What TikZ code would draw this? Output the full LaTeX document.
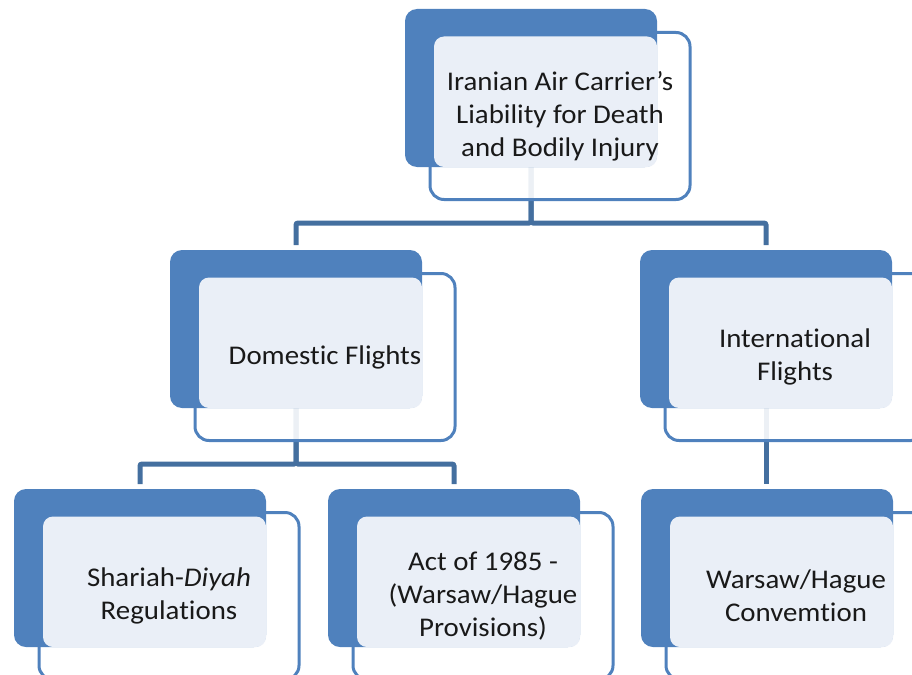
\documentclass[tikz,border=0pt]{standalone}
\usepackage{fontspec}
\setmainfont{Carlito}[FakeStretch=1.07, Ligatures={NoCommon}]
\usetikzlibrary{backgrounds}
\definecolor{darkb}{HTML}{4F81BD}
\definecolor{lightf}{HTML}{EAEFF7}
\definecolor{conn}{HTML}{446F9F}
\newcommand{\orgunit}[4]{%
  \node[wbox] (#1) at ({#2+155},{#3+107}) {};
  \node[dbox] (#1-d) at ({#2+126},{#3+79}) {};
  \fill[lightf, rounded corners=10pt] ([shift={(4,4)}]#1.north west) rectangle (#1-d.south east);
  \node[txt] (#1-t) at (#1.center) {#4};
}
\begin{document}
\begin{tikzpicture}[x=1pt,y=-1pt,
  wbox/.style={draw=darkb, line width=3pt, fill=white, fill opacity=0.9, draw opacity=1,
    rounded corners=14pt, minimum width=260pt, minimum height=167pt, inner sep=0pt, outer sep=0pt},
  dbox/.style={fill=darkb, rounded corners=12pt, minimum width=252pt, minimum height=158pt,
    inner sep=0pt, outer sep=0pt},
  txt/.style={font=\fontsize{27}{33}\selectfont, align=center, text=black!90},
  connline/.style={draw=conn, line width=5pt, rounded corners=2pt, shorten >=5pt}]
\useasboundingbox (0,0) rectangle (912,674);
\clip (0,0) rectangle (912,674);
\orgunit{top}{405}{9}{Iranian Air Carrier’s\\Liability for Death\\and Bodily Injury}
\orgunit{dom}{170}{250}{Domestic Flights}
\orgunit{int}{640}{250}{International\\Flights}
\orgunit{sha}{14}{489}{Shariah-\textit{Diyah}\\Regulations}
\orgunit{act}{328}{489}{Act of 1985 -\\(Warsaw/Hague\\Provisions)}
\orgunit{war}{641}{489}{Warsaw/Hague\\Convemtion}
\begin{scope}[on background layer]
  \draw[connline] (top-d.south) -- ++(0,56) -| (dom-d.north);
  \draw[connline] (top-d.south) -- ++(0,56) -| (int-d.north);
  \draw[connline] (dom-d.south) -- ++(0,56) -| (sha-d.north);
  \draw[connline] (dom-d.south) -- ++(0,56) -| (act-d.north);
  \draw[connline] (int-d.south) -- (int-d.south |- war-d.north);
\end{scope}
\end{tikzpicture}
\end{document}
